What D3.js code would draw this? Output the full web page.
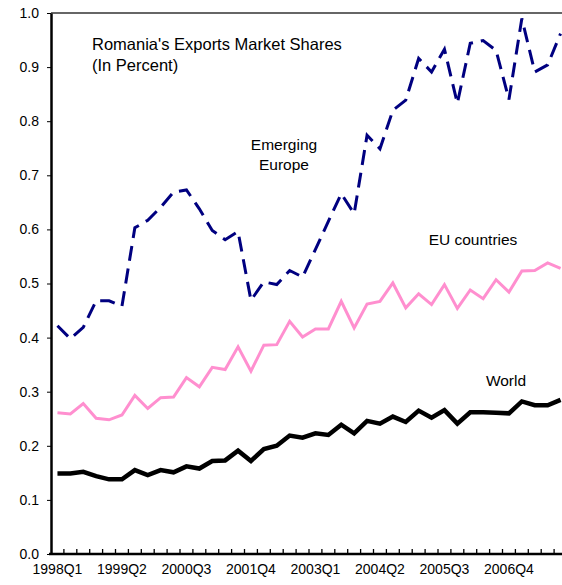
<!DOCTYPE html>
<html>
<head>
<meta charset="utf-8">
<script src="https://cdn.jsdelivr.net/npm/d3@7"></script>
<style>
  body { margin: 0; background: #fff; }
  svg { display: block; font-family: "Liberation Sans", Arial, sans-serif; }
</style>
</head>
<body>
<div id="chart"></div>
<script>
// Quarters 1998Q1 .. 2007Q4
var years = d3.range(1998, 2008);
var quarters = [];
years.forEach(function (y) {
    [1, 2, 3, 4].forEach(function (q) { quarters.push(y + 'Q' + q); });
});

var world = [
    0.149, 0.149, 0.152, 0.144, 0.138, 0.138, 0.155, 0.146, 0.155, 0.151,
    0.162, 0.158, 0.172, 0.173, 0.191, 0.172, 0.194, 0.200, 0.219, 0.215,
    0.223, 0.220, 0.239, 0.223, 0.246, 0.241, 0.254, 0.244, 0.265, 0.252,
    0.266, 0.241, 0.262, 0.262, 0.261, 0.260, 0.282, 0.275, 0.275, 0.285
];

var euCountries = [
    0.261, 0.259, 0.278, 0.251, 0.248, 0.257, 0.293, 0.269, 0.289, 0.290,
    0.326, 0.309, 0.345, 0.341, 0.383, 0.338, 0.386, 0.387, 0.430, 0.401,
    0.416, 0.416, 0.467, 0.418, 0.462, 0.467, 0.501, 0.455, 0.481, 0.461,
    0.498, 0.454, 0.488, 0.472, 0.507, 0.484, 0.523, 0.524, 0.538, 0.528
];

var emergingEurope = [
    0.422, 0.398, 0.419, 0.468, 0.468, 0.458, 0.603, 0.617, 0.641, 0.669,
    0.673, 0.638, 0.598, 0.581, 0.596, 0.469, 0.503, 0.498, 0.524, 0.512,
    0.563, 0.615, 0.666, 0.629, 0.774, 0.749, 0.820, 0.839, 0.916, 0.891,
    0.933, 0.833, 0.944, 0.949, 0.931, 0.840, 0.990, 0.891, 0.904, 0.962
];

var yTicks = d3.range(0, 11).map(function (d) { return d / 10; });

var width = 562, height = 585;
var margin = { top: 13, left: 51, bottom: 31 };
var band = 12.9;

var svg = d3.select('#chart').append('svg')
    .attr('width', width)
    .attr('height', height);

var x = d3.scaleBand()
    .domain(quarters)
    .range([margin.left, margin.left + band * quarters.length])
    .padding(0);

var y = d3.scaleLinear()
    .domain([0, 1])
    .range([height - margin.bottom, margin.top]);

function cx(d, i) { return x(quarters[i]) + x.bandwidth() / 2; }

// top frame
svg.append('line')
    .attr('x1', margin.left).attr('x2', width)
    .attr('y1', y(1)).attr('y2', y(1))
    .attr('stroke', '#333').attr('stroke-width', 1.3);

// lines
var line = d3.line()
    .x(cx)
    .y(function (d) { return y(d); });

svg.append('path')
    .datum(euCountries)
    .attr('d', line)
    .attr('fill', 'none')
    .attr('stroke', '#ff8fcf')
    .attr('stroke-width', 3)
    .attr('stroke-linejoin', 'miter');

svg.append('path')
    .datum(world)
    .attr('d', line)
    .attr('fill', 'none')
    .attr('stroke', '#000')
    .attr('stroke-width', 4.5);

svg.append('path')
    .datum(emergingEurope)
    .attr('d', line)
    .attr('fill', 'none')
    .attr('stroke', '#000080')
    .attr('stroke-width', 3)
    .attr('stroke-dasharray', '15,8');

// y axis
var yAxis = svg.append('g')
    .attr('transform', 'translate(' + margin.left + ',0)')
    .call(d3.axisLeft(y).tickValues(yTicks).tickFormat(d3.format('.1f'))
        .tickSize(4).tickPadding(8).tickSizeOuter(0));
yAxis.select('.domain').attr('stroke-width', 2.5);
yAxis.selectAll('.tick text').style('font-size', '14px').attr('fill', '#000');

// x axis: ticks between quarters, labels every 5th quarter
var xAxis = svg.append('g')
    .attr('transform', 'translate(0,' + y(0) + ')')
    .call(d3.axisBottom(x)
        .tickValues(quarters.filter(function (d, i) { return i % 5 === 0; }))
        .tickSize(0).tickPadding(10).tickSizeOuter(0));
xAxis.select('.domain').remove();
xAxis.selectAll('.tick text').style('font-size', '14px').attr('fill', '#000');

svg.append('line')
    .attr('x1', margin.left - 2).attr('x2', width)
    .attr('y1', y(0)).attr('y2', y(0))
    .attr('stroke', '#000').attr('stroke-width', 2.5);

svg.append('g').selectAll('line')
    .data(quarters.slice(1))
    .enter().append('line')
    .attr('x1', function (d) { return x(d); })
    .attr('x2', function (d) { return x(d); })
    .attr('y1', y(0)).attr('y2', y(0) - 5)
    .attr('stroke', '#000').attr('stroke-width', 1.3);

// labels
var title = svg.append('text')
    .attr('x', 92).attr('y', 50)
    .style('font-size', '16.5px');
title.append('tspan').attr('x', 92).text("Romania's Exports Market Shares");
title.append('tspan').attr('x', 92).attr('dy', 21).text('(In Percent)');

var em = svg.append('text')
    .attr('x', 284).attr('y', 150)
    .attr('text-anchor', 'middle')
    .style('font-size', '15.5px');
em.append('tspan').attr('x', 284).text('Emerging');
em.append('tspan').attr('x', 284).attr('dy', 20).text('Europe');

svg.append('text')
    .attr('x', 473).attr('y', 245)
    .attr('text-anchor', 'middle')
    .style('font-size', '15.5px')
    .text('EU countries');

svg.append('text')
    .attr('x', 506).attr('y', 386)
    .attr('text-anchor', 'middle')
    .style('font-size', '15.5px')
    .text('World');
</script>
</body>
</html>
